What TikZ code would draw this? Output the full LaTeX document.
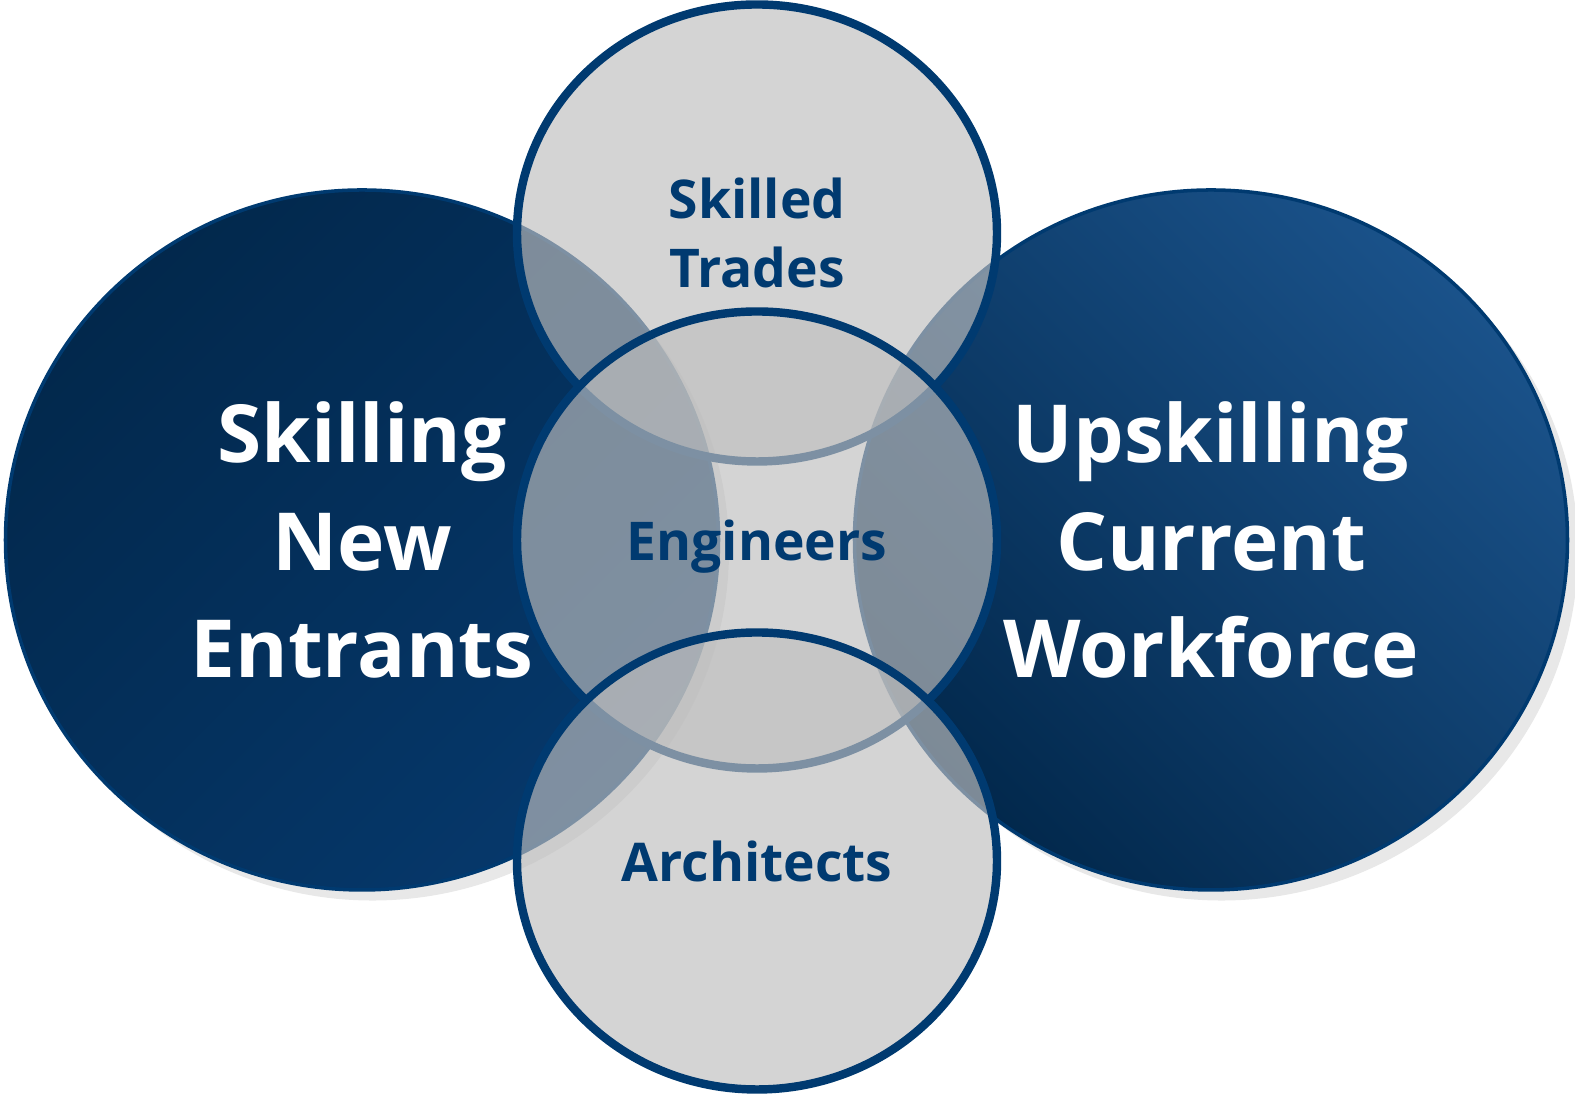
\documentclass[tikz,border=0pt]{standalone}
\usepackage{fontspec}
\setmainfont{Open Sans}
\usetikzlibrary{shapes.geometric,shadows}

\definecolor{navy}{HTML}{003A70}
\definecolor{navydark}{HTML}{02284C}
\definecolor{navymid}{HTML}{06386B}
\definecolor{navylight}{HTML}{1A528A}
\definecolor{circgray}{HTML}{BEBEBE}

\tikzset{
	big/.style={ellipse, inner sep=0pt, minimum width=7.13cm, minimum height=7cm,
		draw=navy, line width=1pt, align=center, text=white,
		font=\bfseries\fontsize{22.8}{30.7}\selectfont,
		drop shadow={shadow xshift=3pt, shadow yshift=-3pt, opacity=0.18}},
	small/.style={ellipse, inner sep=0pt, minimum width=4.8cm, minimum height=4.57cm,
		draw=navy, line width=2.4pt, fill=circgray, fill opacity=0.66, draw opacity=1,
		text opacity=1, align=center, text=navy, text depth=0pt,
		font=\bfseries\fontsize{15.2}{19.6}\selectfont}
}

\begin{document}
\begin{tikzpicture}
		\useasboundingbox (0,0) rectangle (15.75,10.95);
		
		\node[big, top color=navydark, bottom color=navymid, shading angle=45] (skilling) at (3.62,5.55) {Skilling\\New\\Entrants};
		\node[big, top color=navylight, bottom color=navydark, shading angle=-45] (upskilling) at (12.11,5.55) {Upskilling\\Current\\Workforce};
		
		\node[small] (trades) at (7.57,8.62) {Skilled\\Trades};
		\node[small] (engineers) at (7.57,5.55) {Engineers};
		\node[small] (architects) at (7.57,2.34) {Architects};
		\end{tikzpicture}
\end{document}
